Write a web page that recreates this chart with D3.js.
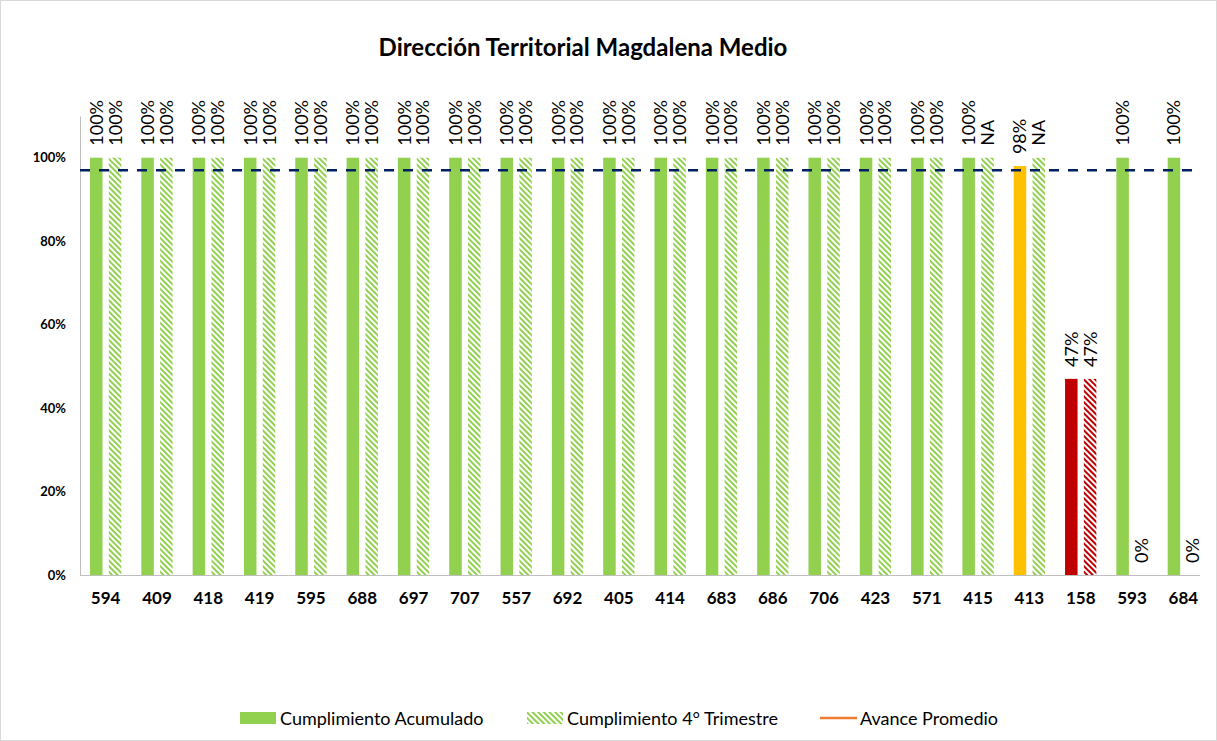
<!DOCTYPE html>
<html>
<head>
<meta charset="utf-8">
<script src="https://cdn.jsdelivr.net/npm/d3@7"></script>
<style>
  body { margin: 0; background: #fff; }
  svg { display: block; font-family: Lato, "Noto Sans", sans-serif; }
</style>
</head>
<body>
<svg width="1217" height="741"></svg>
<script>
// datos
const categorias = ["594", "409", "418", "419", "595", "688", "697", "707", "557", "692", "405",
  "414", "683", "686", "706", "423", "571", "415", "413", "158", "593", "684"];
const acumulado = [100, 100, 100, 100, 100, 100, 100, 100, 100, 100, 100,
  100, 100, 100, 100, 100, 100, 100, 98, 47, 100, 100];
const trimestre = [100, 100, 100, 100, 100, 100, 100, 100, 100, 100, 100,
  100, 100, 100, 100, 100, 100, 100, 100, 47, 0, 0];
const trimestreNA = ["415", "413"];
const avancePromedio = 97;
const yTicks = [0, 20, 40, 60, 80, 100];
const series = ["acumulado", "trimestre"];
const leyenda = ["Cumplimiento Acumulado", "Cumplimiento 4° Trimestre", "Avance Promedio"];

const svg = d3.select("svg");
const width = 1217, height = 741;

const colorDe = v => v >= 99 ? "#92D050" : v >= 60 ? "#FFC000" : "#C00000";

// borde del gráfico
svg.append("rect")
  .attr("x", 0.5).attr("y", 0.5)
  .attr("width", width - 1).attr("height", height - 1)
  .attr("fill", "#fff").attr("stroke", "#d9d9d9");

// patrones rayados
const defs = svg.append("defs");
[["verde", "#92D050"], ["rojo", "#C00000"], ["naranja", "#FFC000"]].forEach(([id, c]) => {
  const p = defs.append("pattern")
    .attr("id", "raya-" + id)
    .attr("patternUnits", "userSpaceOnUse")
    .attr("width", 4).attr("height", 4)
    .attr("patternTransform", "rotate(-45)");
  p.append("rect").attr("width", 4).attr("height", 4).attr("fill", "#fff");
  p.append("rect").attr("width", 2).attr("height", 4).attr("fill", c);
});
const rayaDe = v => v >= 99 ? "url(#raya-verde)" : v >= 60 ? "url(#raya-naranja)" : "url(#raya-rojo)";

// título
svg.append("text")
  .attr("x", 583).attr("y", 56)
  .attr("text-anchor", "middle")
  .attr("font-size", 24).attr("font-weight", "bold")
  .attr("fill", "#000")
  .text("Dirección Territorial Magdalena Medio");

const x = d3.scaleBand()
  .domain(categorias)
  .range([80, 1209])
  .paddingInner(0.39)
  .paddingOuter(0.195);

const xSub = d3.scaleBand()
  .domain(series)
  .range([0, x.bandwidth()])
  .paddingInner(0.335);

const y = d3.scaleLinear()
  .domain([0, 110])
  .range([575, 116]);

// ejes
const ejeY = svg.append("g")
  .attr("transform", "translate(80,0)")
  .call(d3.axisLeft(y).tickValues(yTicks).tickSize(0).tickPadding(14).tickFormat(d => d + "%"));
ejeY.select(".domain").attr("stroke", "#bfbfbf");
ejeY.selectAll("text")
  .attr("font-size", 13).attr("font-weight", "bold")
  .attr("font-family", "Lato, sans-serif").attr("fill", "#000");

const ejeX = svg.append("g")
  .attr("transform", "translate(0,575)")
  .call(d3.axisBottom(x).tickSize(0).tickPadding(17));
ejeX.select(".domain").attr("stroke", "#bfbfbf").attr("d", "M80,0.5H1200");
ejeX.selectAll("text")
  .attr("font-size", 17).attr("font-weight", "bold")
  .attr("font-family", "Lato, sans-serif").attr("fill", "#000");

// barras
const filas = categorias.map((c, i) => ({
  cat: c, acumulado: acumulado[i], trimestre: trimestre[i]
}));

const grupos = svg.append("g").selectAll("g")
  .data(filas)
  .join("g")
  .attr("transform", d => `translate(${x(d.cat)},0)`);

grupos.append("rect")
  .attr("x", xSub("acumulado"))
  .attr("y", d => y(d.acumulado))
  .attr("width", xSub.bandwidth())
  .attr("height", d => y(0) - y(d.acumulado))
  .attr("fill", d => colorDe(d.acumulado));

grupos.append("rect")
  .attr("x", xSub("trimestre"))
  .attr("y", d => y(d.trimestre))
  .attr("width", xSub.bandwidth())
  .attr("height", d => y(0) - y(d.trimestre))
  .attr("fill", d => trimestreNA.includes(d.cat) ? "url(#raya-verde)" : rayaDe(d.trimestre));

// etiquetas de datos
const etiqueta = (sel, key, texto) => sel.append("text")
  .attr("transform", d => `translate(${xSub(key) + xSub.bandwidth() / 2 + 6.5},${y(d[key]) - 12}) rotate(-90)`)
  .attr("font-size", 18)
  .attr("fill", "#000")
  .text(texto);

etiqueta(grupos, "acumulado", d => d.acumulado + "%");
etiqueta(grupos, "trimestre", d => trimestreNA.includes(d.cat) ? "NA" : d.trimestre + "%");

// línea de avance promedio
svg.append("line")
  .attr("x1", 80).attr("x2", 1198)
  .attr("y1", y(avancePromedio)).attr("y2", y(avancePromedio))
  .attr("stroke", "#002060")
  .attr("stroke-width", 2.5)
  .attr("stroke-dasharray", "10,9");

// leyenda
const ley = svg.append("g").attr("font-size", 18).attr("fill", "#000");
ley.append("rect").attr("x", 240).attr("y", 712).attr("width", 36).attr("height", 12).attr("fill", "#92D050");
ley.append("text").attr("x", 280).attr("y", 725).text(leyenda[0]);
ley.append("rect").attr("x", 527).attr("y", 712).attr("width", 36).attr("height", 12).attr("fill", "url(#raya-verde)");
ley.append("text").attr("x", 567).attr("y", 725).text(leyenda[1]);
ley.append("line").attr("x1", 820).attr("x2", 857).attr("y1", 718).attr("y2", 718)
  .attr("stroke", "#ED7D31").attr("stroke-width", 2.5);
ley.append("text").attr("x", 860).attr("y", 725).text(leyenda[2]);
</script>
</body>
</html>
